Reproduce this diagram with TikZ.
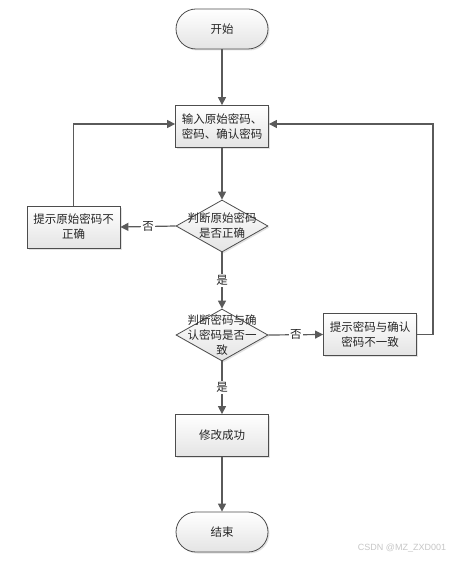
\documentclass[tikz,border=0pt]{standalone}
\usepackage{fontspec}
\newfontfamily\cjk{Noto Sans CJK SC}
\newfontfamily\wmfont{Liberation Sans}
\usepackage{tikz}
\usetikzlibrary{shapes.geometric,arrows.meta,shadows}
\definecolor{linegray}{HTML}{5A5A5A}
\definecolor{boxedge}{HTML}{4D4D4D}
\definecolor{boxbot}{HTML}{E4E4E4}

\begin{document}
\begin{tikzpicture}[x=1pt, y=-1pt, >={Triangle[length=8pt,width=8pt]},
  every node/.style={font=\cjk\fontsize{11.5}{15}\selectfont, text=black!85},
  shade/.style={draw=boxedge, line width=0.8pt, top color=white, bottom color=boxbot,
    drop shadow={shadow xshift=1.5pt, shadow yshift=-1.5pt, fill=gray!45}},
  terminal/.style={rectangle, rounded corners=20pt, shade, minimum width=92pt, minimum height=40pt},
  process/.style={rectangle, shade, minimum width=93pt, minimum height=42pt, align=center, inner sep=2pt},
  decision/.style={diamond, shade, minimum width=92pt, minimum height=52pt, inner sep=0pt},
  flow/.style={->, draw=linegray, line width=1.2pt},
  answer/.style={fill=white, inner sep=1.5pt}]
  \useasboundingbox (0,0) rectangle (450,561);

  % main column
  \node[terminal] (start) at (222,29) {开始};
  \node[process] (input) at (222,126.5) {输入原始密码、\\密码、确认密码};
  \node[decision, label={[align=center]center:{判断原始密码\\是否正确}}] (checkold) at (222,226) {};
  \node[decision, label={[align=center]center:{判断密码与确\\认密码是否一\\致}}] (checknew) at (222,335) {};
  \node[process] (done) at (222,435.5) {修改成功};
  \node[terminal] (stop) at (222,532) {结束};

  % side boxes
  \node[process] (olderr) at (73.5,227) {提示原始密码不\\正确};
  \node[process] (newerr) at (370,334.5) {提示密码与确认\\密码不一致};

  % connectors
  \draw[flow] (start) -- (input);
  \draw[flow] (input) -- (checkold);
  \draw[flow] (checkold.west) -- node[answer] {否} (olderr.east);
  \draw[flow] (olderr.north) |- ([yshift=2.5pt]input.west);
  \draw[flow] (checkold.south) -- node[answer] {是} (checknew.north);
  \draw[flow] (checknew.east) -- node[answer] {否} (newerr.west);
  \draw[flow] (newerr.east) -- ++(16,0) |- ([yshift=2.5pt]input.east);
  \draw[flow] (checknew.south) -- node[answer] {是} (done.north);
  \draw[flow] (done) -- (stop);

  \node[font=\wmfont\fontsize{9}{10}\selectfont, text=gray!45] (mark) at (402,548) {CSDN @MZ\_ZXD001};
\end{tikzpicture}
\end{document}
